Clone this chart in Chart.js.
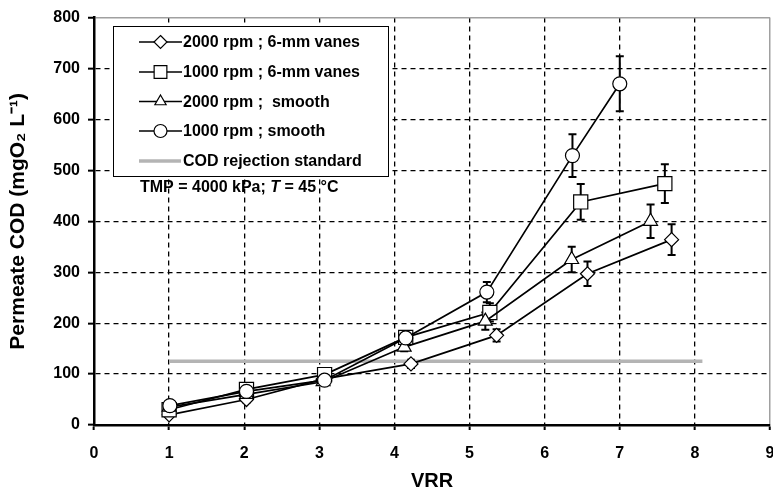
<!DOCTYPE html>
<html><head><meta charset="utf-8">
<script src="https://cdn.jsdelivr.net/npm/chart.js@4.4.1/dist/chart.umd.min.js"></script>
<style>html,body{margin:0;padding:0;background:#fff;overflow:hidden;width:773px;height:493px}</style>
</head><body>
<canvas id="c" width="790" height="493" style="display:block"></canvas>
<script>
// ---- data ----
const xTickLabels = ['0','1','2','3','4','5','6','7','8','9'];
const yTickLabels = ['0','100','200','300','400','500','600','700','800'];
const seriesNames = ['2000 rpm ; 6-mm vanes','1000 rpm ; 6-mm vanes','2000 rpm ;  smooth','1000 rpm ; smooth','COD rejection standard'];

const vrr2000Vanes = [1.00, 2.03, 3.05, 4.22, 5.36, 6.57, 7.69];
const cod2000Vanes = [20, 50, 90, 120, 176, 297, 364];
const err2000Vanes = [6, 6, 6, 8, 12, 24, 30];

const vrr1000Vanes = [1.00, 2.03, 3.07, 4.15, 5.27, 6.48, 7.60];
const cod1000Vanes = [30, 70, 99, 172, 221, 438, 474];
const err1000Vanes = [6, 6, 6, 8, 18, 35, 38];

const vrr2000Smooth = [1.00, 2.03, 3.05, 4.13, 5.21, 6.36, 7.41];
const cod2000Smooth = [35, 60, 85, 153, 204, 325, 400];
const err2000Smooth = [6, 6, 6, 8, 17, 25, 33];

const vrr1000Smooth = [1.01, 2.03, 3.07, 4.15, 5.23, 6.37, 7.00];
const cod1000Smooth = [38, 66, 88, 171, 261, 529, 670];
const err1000Smooth = [6, 6, 6, 8, 20, 42, 54];

const vrrStandard = [1.0, 8.1];
const codStandard = [125, 125];

// ---- build ----
const FONT = "'Liberation Sans', Arial, sans-serif";
const pts = (xs, ys) => xs.map((x, i) => ({x: x, y: ys[i]}));
const markerStyles = ['rectRot','rect','triangle','circle'];
const markerRadius = [7, 10, 8, 7];

function mk(i, xs, ys, errs, order){
  return {
    label: seriesNames[i], data: pts(xs, ys), err: errs, showLine: true,
    borderColor: '#000', borderWidth: 1.7,
    pointStyle: markerStyles[i], pointRadius: markerRadius[i], pointHoverRadius: markerRadius[i],
    pointBackgroundColor: '#fff', pointBorderColor: '#000', pointBorderWidth: 1.2,
    order: order
  };
}

const datasets = [
  mk(0, vrr2000Vanes, cod2000Vanes, err2000Vanes, 3),
  mk(1, vrr1000Vanes, cod1000Vanes, err1000Vanes, 2),
  mk(2, vrr2000Smooth, cod2000Smooth, err2000Smooth, 1),
  mk(3, vrr1000Smooth, cod1000Smooth, err1000Smooth, 0),
  { label: seriesNames[4], data: pts(vrrStandard, codStandard), showLine: true,
    borderColor: '#b4b4b4', borderWidth: 3.5, pointRadius: 0, order: 10 }
];

const errorBars = {
  id: 'errorBars',
  beforeDatasetsDraw(chart){
    const ctx = chart.ctx, xs = chart.scales.x, ys = chart.scales.y;
    ctx.save(); ctx.strokeStyle = '#000'; ctx.lineWidth = 2;
    chart.data.datasets.forEach(ds => {
      if (!ds.err) return;
      ds.data.forEach((p, j) => {
        const e = ds.err[j];
        const x = xs.getPixelForValue(p.x);
        const y1 = ys.getPixelForValue(p.y + e), y2 = ys.getPixelForValue(p.y - e);
        ctx.beginPath();
        ctx.moveTo(x, y1); ctx.lineTo(x, y2);
        ctx.moveTo(x - 4, y1); ctx.lineTo(x + 4, y1);
        ctx.moveTo(x - 4, y2); ctx.lineTo(x + 4, y2);
        ctx.stroke();
      });
    });
    ctx.restore();
  }
};

function drawMarker(ctx, style, x, y, r){
  ctx.beginPath();
  if (style === 'circle') { ctx.arc(x, y, r, 0, Math.PI*2); }
  else if (style === 'rect') { const s = r*Math.SQRT1_2; ctx.rect(x-s, y-s, 2*s, 2*s); }
  else if (style === 'rectRot') { ctx.moveTo(x, y-r); ctx.lineTo(x+r, y); ctx.lineTo(x, y+r); ctx.lineTo(x-r, y); ctx.closePath(); }
  else if (style === 'triangle') {
    for (let k = 0; k < 3; k++) { const a = k*2*Math.PI/3; const px = x + Math.sin(a)*r, py = y - Math.cos(a)*r; k ? ctx.lineTo(px, py) : ctx.moveTo(px, py); }
    ctx.closePath();
  }
  ctx.fillStyle = '#fff'; ctx.fill();
  ctx.lineWidth = 1.2; ctx.strokeStyle = '#000'; ctx.stroke();
}

const boxLegend = {
  id: 'boxLegend',
  afterDraw(chart){
    const ctx = chart.ctx;
    ctx.save();
    ctx.fillStyle = '#fff'; ctx.fillRect(113.5, 26.5, 275, 150);
    ctx.strokeStyle = '#000'; ctx.lineWidth = 1; ctx.strokeRect(113.5, 26.5, 275, 150);
    const rows = [42, 72, 101.5, 131, 161];
    ctx.font = 'bold 16px ' + FONT; ctx.textBaseline = 'middle'; ctx.textAlign = 'left';
    rows.forEach((ry, i) => {
      if (i < 4) {
        ctx.strokeStyle = '#000'; ctx.lineWidth = 1.7;
        ctx.beginPath(); ctx.moveTo(139, ry); ctx.lineTo(182, ry); ctx.stroke();
        drawMarker(ctx, markerStyles[i], 160.5, ry, i === 1 ? 9 : 6.5);
      } else {
        ctx.strokeStyle = '#b4b4b4'; ctx.lineWidth = 3.5;
        ctx.beginPath(); ctx.moveTo(139, ry); ctx.lineTo(181, ry); ctx.stroke();
      }
      ctx.fillStyle = '#000';
      ctx.fillText(seriesNames[i], 183, ry + 1);
    });
    // annotation
    let x = 140; const y = 188;
    const parts = [['TMP = 4000 kPa; ', 'bold'], ['T', 'italic bold'], [' = 45 °C', 'bold']];
    parts.forEach(([t, f]) => { ctx.font = f + ' 16px ' + FONT; ctx.fillText(t, x, y); x += ctx.measureText(t).width; });
    ctx.restore();
  }
};

new Chart(document.getElementById('c'), {
  type: 'scatter',
  data: { datasets },
  plugins: [errorBars, boxLegend],
  options: {
    responsive: false, animation: false, devicePixelRatio: 1,
    layout: { padding: { top: 15, right: 20, left: 0, bottom: 0 } },
    plugins: { legend: { display: false }, tooltip: { enabled: false } },
    scales: {
      x: {
        type: 'linear', min: 0, max: 9,
        afterFit: s => { s.height = 68; },
        ticks: { stepSize: 1, autoSkip: false, maxRotation: 0, padding: 14, color: '#000',
                 font: { family: FONT, size: 16, weight: 'bold' },
                 callback: v => xTickLabels[v] },
        grid: { color: c => c.tick.value === 9 ? '#a0a0a0' : (c.tick.value === 0 ? 'rgba(0,0,0,0)' : '#000'),
                lineWidth: c => c.tick.value === 9 ? 1.5 : 1.3,
                tickColor: '#000', tickLength: 5, tickWidth: 2 },
        border: { color: '#000', width: 2.5, dash: c => c.tick && c.tick.value === 9 ? [] : [5, 4] },
        title: { display: true, text: 'VRR', color: '#000', font: { family: FONT, size: 20, weight: 'bold' }, padding: { top: 0, bottom: 0 } }
      },
      y: {
        type: 'linear', min: 0, max: 800,
        afterFit: s => { s.width = 94; },
        ticks: { stepSize: 100, autoSkip: false, padding: 8, color: '#000',
                 font: { family: FONT, size: 16, weight: 'bold' },
                 callback: v => yTickLabels[v / 100] },
        grid: { color: c => c.tick.value === 800 ? '#a0a0a0' : (c.tick.value === 0 ? 'rgba(0,0,0,0)' : '#000'),
                lineWidth: c => c.tick.value === 800 ? 1.5 : 1.3,
                tickColor: '#000', tickLength: 6, tickWidth: 2 },
        border: { color: '#000', width: 2.5, dash: c => c.tick && c.tick.value === 800 ? [] : [5, 4] },
        title: { display: true, text: 'Permeate COD (mgO\u2082 L\u207B\u00B9)', color: '#000', font: { family: FONT, size: 21, weight: 'bold' }, padding: { top: 6, bottom: 0 } }
      }
    }
  }
});
</script>
</body></html>
